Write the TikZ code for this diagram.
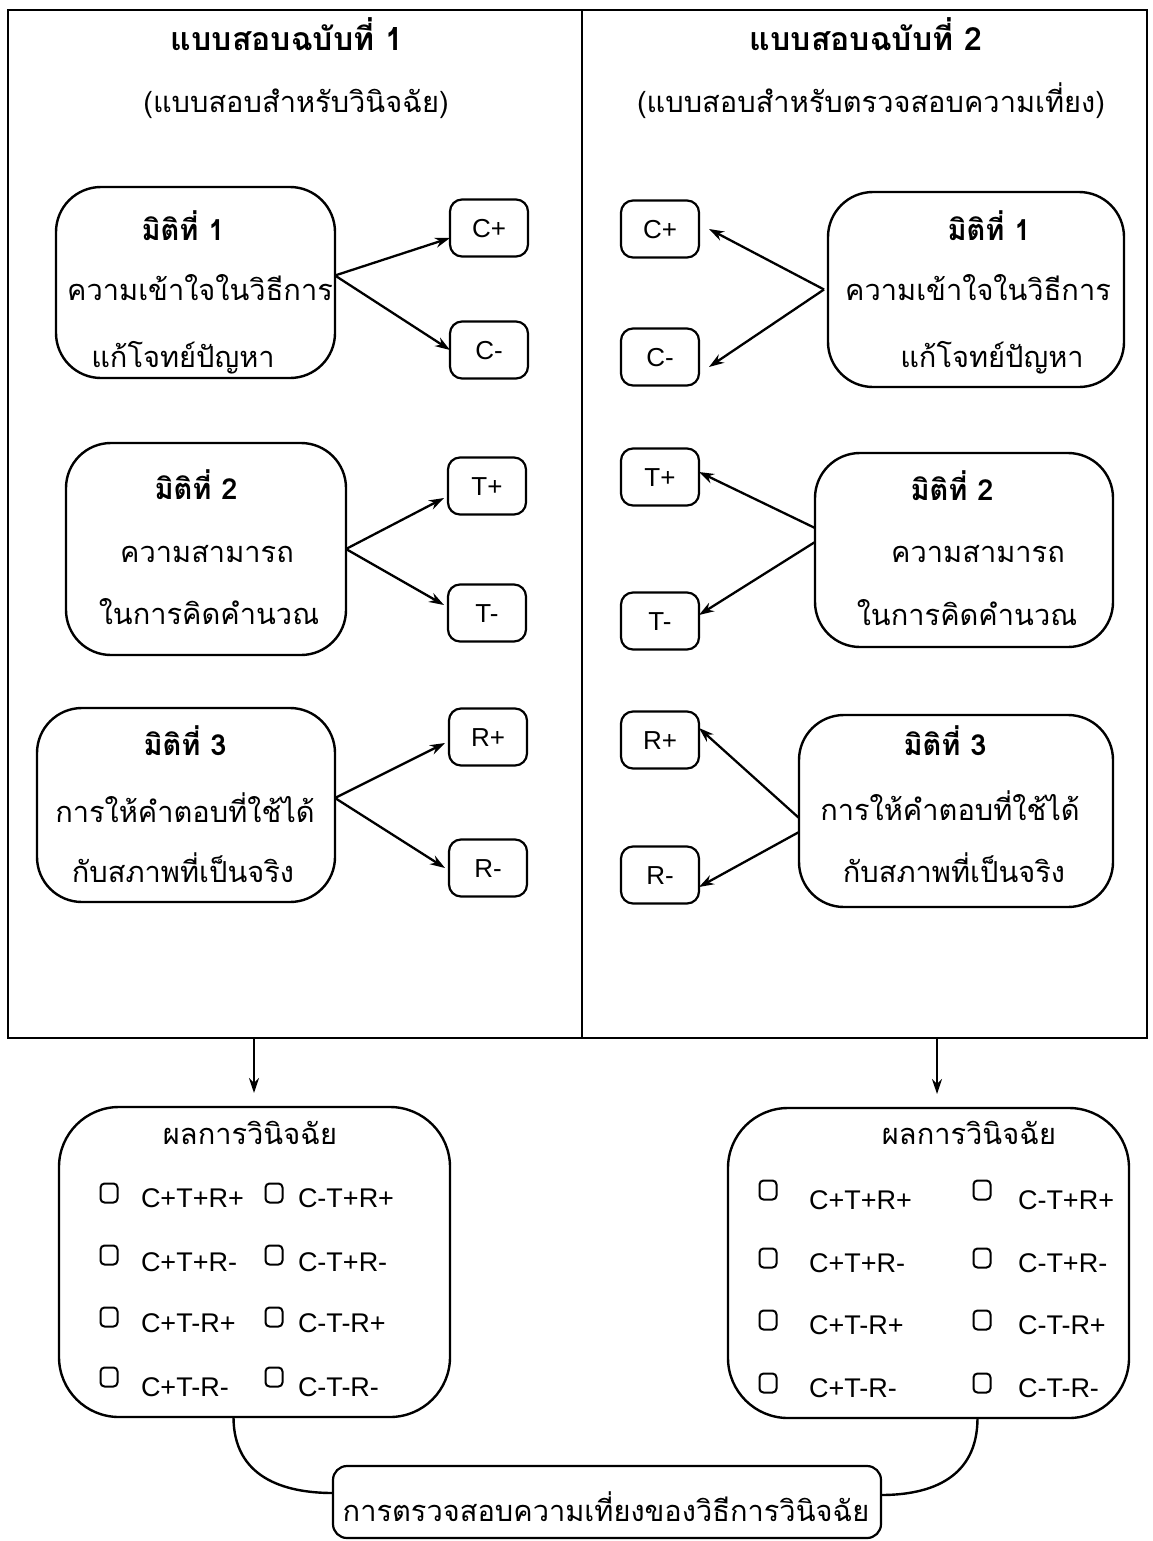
\documentclass[tikz,border=0pt]{standalone}
\usepackage{fontspec}
\setmainfont{Liberation Sans}
\newfontfamily\thai[Script=Thai]{Loma}
\usetikzlibrary{arrows.meta,calc}
\begin{document}
\begin{tikzpicture}[x=1pt,y=-1pt,
  every node/.style={inner sep=0pt, outer sep=0pt},
  line/.style={line width=2.4pt},
  bigbox/.style={draw, line width=2.4pt, rounded corners=45pt},
  resbox/.style={draw, line width=2.4pt, rounded corners=60pt},
  smallbox/.style={draw, line width=2.2pt, rounded corners=12pt, minimum width=78pt, minimum height=57pt, font=\fontsize{26}{30}\selectfont, text height=18.7pt, text depth=0pt},
  arr/.style={line width=2.3pt, -{Stealth[length=15pt,width=10pt]}},
  th/.style={font=\thai\fontsize{29}{35}\selectfont, text height=21.75pt, text depth=7.25pt},
  thb/.style={font=\thai\bfseries\fontsize{29}{35}\selectfont, text height=21.75pt, text depth=7.25pt},
  thbig/.style={font=\thai\bfseries\fontsize{32}{38}\selectfont, text height=24pt, text depth=8pt},
  lab/.style={anchor=west, font=\fontsize{27}{30}\selectfont, text height=19.4pt, text depth=0pt},
  chk/.style={draw, line width=2pt, rounded corners=4pt, minimum width=17pt, minimum height=19pt},
]
\useasboundingbox (0,0) rectangle (1153,1541);
\fill[white] (0,0) rectangle (1153,1541);

% frame
\draw[line] (8,10) rectangle (1147,1038);
\draw[line] (582,10) -- (582,1038);
\coordinate (fL) at (254,1038);
\coordinate (fR) at (937,1038);

% titles
\node[thbig] (t1) at (287,43) {แบบสอบฉบับที่ 1};
\node[th] (s1) at (296,105) {(แบบสอบสำหรับวินิจฉัย)};
\node[thbig] (t2) at (866,43) {แบบสอบฉบับที่ 2};
\node[th] (s2) at (871,105) {(แบบสอบสำหรับตรวจสอบความเที่ยง)};

% left dimension boxes
\node[bigbox, minimum width=279pt, minimum height=191pt] (d1L) at (195.5,282.5) {};
\node[thb] (d1La) at (183,233) {มิติที่ 1};
\node[th] (d1Lb) at (200,293) {ความเข้าใจในวิธีการ};
\node[th] (d1Lc) at (183,360) {แก้โจทย์ปัญหา};

\node[bigbox, minimum width=280pt, minimum height=212pt] (d2L) at (206,549) {};
\node[thb] (d2La) at (196,492) {มิติที่ 2};
\node[th] (d2Lb) at (207,555) {ความสามารถ};
\node[th] (d2Lc) at (209,617) {ในการคิดคำนวณ};

\node[bigbox, minimum width=298pt, minimum height=194pt] (d3L) at (186,805) {};
\node[thb] (d3La) at (185,748) {มิติที่ 3};
\node[th] (d3Lb) at (185,815) {การให้คำตอบที่ใช้ได้};
\node[th] (d3Lc) at (183,875) {กับสภาพที่เป็นจริง};

% left small boxes
\node[smallbox] (cpL) at (489,228) {C+};
\node[smallbox] (cmL) at (489,350) {C-};
\node[smallbox] (tpL) at (487,486) {T+};
\node[smallbox] (tmL) at (487,613) {T-};
\node[smallbox] (rpL) at (488,737) {R+};
\node[smallbox] (rmL) at (488,868) {R-};

\draw[arr] ([yshift=7pt]d1L.east) -- ([yshift=-10pt]cpL.west);
\draw[arr] ([yshift=7pt]d1L.east) -- (cmL.west);
\draw[arr] (d2L.east) -- ([yshift=-12pt,xshift=-4pt]tpL.west);
\draw[arr] (d2L.east) -- ([yshift=8pt,xshift=-4pt]tmL.west);
\draw[arr] ([yshift=7pt]d3L.east) -- ([yshift=-6pt,xshift=-4pt]rpL.west);
\draw[arr] ([yshift=7pt]d3L.east) -- ([xshift=-4pt]rmL.west);

% right dimension boxes
\node[bigbox, minimum width=296pt, minimum height=195pt] (d1R) at (976,289.5) {};
\node[thb] (d1Ra) at (989,233) {มิติที่ 1};
\node[th] (d1Rb) at (978,293) {ความเข้าใจในวิธีการ};
\node[th] (d1Rc) at (992,360) {แก้โจทย์ปัญหา};

\node[bigbox, minimum width=298pt, minimum height=194pt] (d2R) at (964,550) {};
\node[thb] (d2Ra) at (952,493) {มิติที่ 2};
\node[th] (d2Rb) at (978,555) {ความสามารถ};
\node[th] (d2Rc) at (967,618) {ในการคิดคำนวณ};

\node[bigbox, minimum width=314pt, minimum height=192pt] (d3R) at (956,811) {};
\node[thb] (d3Ra) at (945,748) {มิติที่ 3};
\node[th] (d3Rb) at (950,813) {การให้คำตอบที่ใช้ได้};
\node[th] (d3Rc) at (954,875) {กับสภาพที่เป็นจริง};

% right small boxes
\node[smallbox] (cpR) at (660,229) {C+};
\node[smallbox] (cmR) at (660,357) {C-};
\node[smallbox] (tpR) at (660,477) {T+};
\node[smallbox] (tmR) at (660,621) {T-};
\node[smallbox] (rpR) at (660,740) {R+};
\node[smallbox] (rmR) at (660,875) {R-};

\draw[arr] ([xshift=-4pt]d1R.west) -- ([xshift=10pt]cpR.east);
\draw[arr] ([xshift=-4pt]d1R.west) -- ([xshift=10pt,yshift=-10pt]cmR.east);
\draw[arr] ([yshift=22pt]d2R.west) -- ([yshift=5pt]tpR.east);
\draw[arr] ([yshift=8pt]d2R.west) -- ([yshift=6pt]tmR.east);
\draw[arr] ([yshift=-7pt]d3R.west) -- ([yshift=12pt]rpR.east);
\draw[arr] ([yshift=-21pt]d3R.west) -- ([yshift=-12pt]rmR.east);

% result boxes
\node[resbox, minimum width=391pt, minimum height=310pt] (resL) at (254.5,1262) {};
\node[resbox, minimum width=401pt, minimum height=310pt] (resR) at (928.5,1263) {};
\draw[arr] (fL) -- (fL |- resL.north) [shorten >=14pt];
\draw[arr] (fR) -- (fR |- resR.north) [shorten >=14pt];

\node[th] (rtL) at (250,1137) {ผลการวินิจฉัย};
\node[th] (rtR) at (969,1137) {ผลการวินิจฉัย};

\foreach \i/\ty/\cy/\a/\b in {1/1198/1193/C+T+R+/C-T+R+, 2/1262/1255/C+T+R-/C-T+R-, 3/1323/1317/C+T-R+/C-T-R+, 4/1387/1377/C+T-R-/C-T-R-}{
  \node[chk] (lcA\i) at (109,\cy) {};
  \node[lab] (llA\i) at (141,\ty) {\a};
  \node[chk] (lcB\i) at (274,\cy) {};
  \node[lab] (llB\i) at (298,\ty) {\b};
}
\foreach \i/\ty/\cy/\a/\b in {1/1200/1190/C+T+R+/C-T+R+, 2/1263/1258/C+T+R-/C-T+R-, 3/1325/1320/C+T-R+/C-T-R+, 4/1388/1383/C+T-R-/C-T-R-}{
  \node[chk] (rcA\i) at (768,\cy) {};
  \node[lab] (rlA\i) at (809,\ty) {\a};
  \node[chk] (rcB\i) at (982,\cy) {};
  \node[lab] (rlB\i) at (1018,\ty) {\b};
}

% bottom box
\node[draw, line width=2.2pt, rounded corners=14pt, minimum width=548pt, minimum height=72pt] (chkB) at (607,1502) {};
\node[th] (chkBt) at (606,1514) {การตรวจสอบความเที่ยงของวิธีการวินิจฉัย};

\draw[line] ([xshift=-21pt]resL.south) .. controls +(0,60) and +(-50,0) .. ([yshift=9pt]chkB.west);
\draw[line] ([xshift=49pt]resR.south) .. controls +(0,60) and +(50,0) .. ([yshift=7pt]chkB.east);
\end{tikzpicture}
\end{document}
